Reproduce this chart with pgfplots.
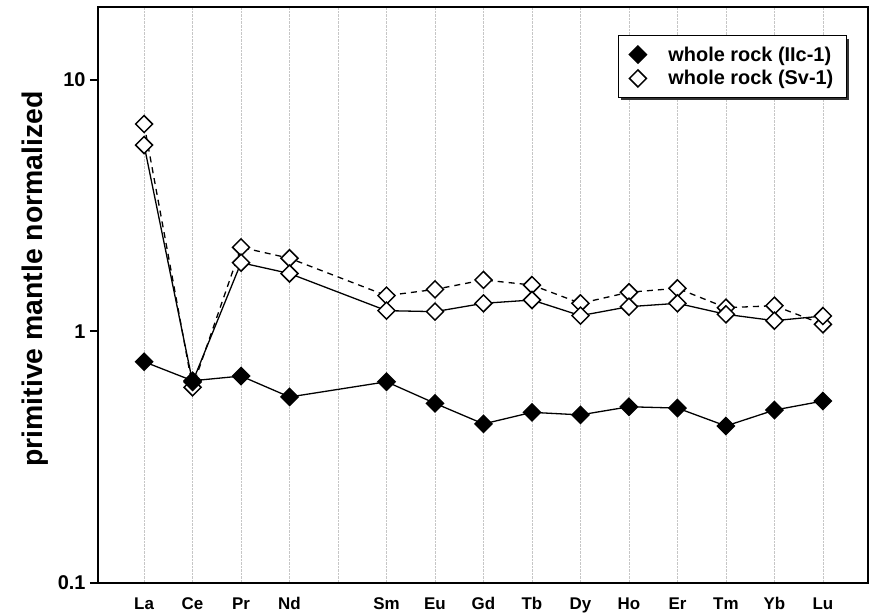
\documentclass[border=0pt]{standalone}
\usepackage{fontspec}
\setmainfont{Liberation Sans}
\usepackage{pgfplots}
\pgfplotsset{compat=1.18}
\usetikzlibrary{shadows}

% primitive-mantle normalized REE patterns (Pm omitted, x = 4)
\pgfplotstableread{
x   y
0   0.758
1   0.637
2   0.665
3   0.549
5   0.631
6   0.518
7   0.429
8   0.477
9   0.466
10  0.502
11  0.496
12  0.421
13  0.487
14  0.529
}\iicone
\pgfplotstableread{
x   y
0   5.51
1   0.63
2   1.877
3   1.70
5   1.21
6   1.199
7   1.294
8   1.334
9   1.156
10  1.255
11  1.294
12  1.17
13  1.104
14  1.152
}\svonea
\pgfplotstableread{
x   y
0   6.68
1   0.60
2   2.16
3   1.955
5   1.388
6   1.47
7   1.603
8   1.53
9   1.294
10  1.432
11  1.485
12  1.243
13  1.266
14  1.068
}\svoneb

\begin{document}
\begin{tikzpicture}
\begin{axis}[
  scale only axis,
  width=770bp, height=576bp,
  xmin=-0.95, xmax=14.93,
  ymode=log, ymin=0.1, ymax=19.5,
  axis line style={line width=2.8bp},
  xtick={0,...,14},
  xticklabels={La,Ce,Pr,Nd,,Sm,Eu,Gd,Tb,Dy,Ho,Er,Tm,Yb,Lu},
  xtick style={draw=none},
  xmajorgrids,
  grid style={gray!45, densely dotted, line width=0.7bp},
  ytick={0.1,1,10},
  yticklabels={0.1,1,10},
  yminorticks=false,
  ytick pos=left,
  tick align=outside,
  major tick length=8bp,
  ytick style={line width=2bp, black},
  /pgf/number format/assume math mode=true,
  xticklabel style={font=\fontsize{17}{20}\selectfont\bfseries, yshift=-3bp},
  yticklabel style={font=\fontsize{20}{24}\selectfont\bfseries, xshift=-1bp},
  ylabel={primitive mantle normalized},
  ylabel style={font=\fontsize{28.5}{32}\selectfont\bfseries,
                at={(axis description cs:-0.082,0.528)}, anchor=center},
  legend cell align=left,
  legend style={at={(0.9727,0.9514)}, anchor=north east,
                font=\fontsize{20}{24}\selectfont\bfseries,
                draw=black, line width=1.2bp, fill=white,
                drop shadow={shadow xshift=3bp, shadow yshift=-3bp, fill=black!80, opacity=1},
                inner xsep=11bp, inner ysep=9bp, row sep=4bp, column sep=20bp},
]
\addlegendimage{only marks, mark=square*, mark size=6bp,
  mark options={rotate=45, fill=black, draw=black, line width=1.5bp}}
\addlegendentry{whole rock (IIc-1)}
\addlegendimage{only marks, mark=square*, mark size=6bp,
  mark options={rotate=45, fill=white, draw=black, line width=1.5bp}}
\addlegendentry{whole rock (Sv-1)}

\addplot[forget plot, black, line width=1.3bp, dash pattern=on 6bp off 5bp,
  mark=square*, mark size=6bp,
  mark options={solid, rotate=45, fill=white, draw=black, line width=1.5bp}]
  table[x=x, y=y] {\svoneb};
\addplot[forget plot, black, line width=1.3bp,
  mark=square*, mark size=6bp,
  mark options={rotate=45, fill=white, draw=black, line width=1.5bp}]
  table[x=x, y=y] {\svonea};
\addplot[forget plot, black, line width=1.3bp,
  mark=square*, mark size=6bp,
  mark options={rotate=45, fill=black, draw=black, line width=1.5bp}]
  table[x=x, y=y] {\iicone};

\coordinate (sw) at (rel axis cs:0,0);
\coordinate (ne) at (rel axis cs:1,1);
\end{axis}
\pgfresetboundingbox
\path[use as bounding box] ([shift={(-98bp,-32bp)}]sw) rectangle ([shift={(4bp,7bp)}]ne);
\end{tikzpicture}
\end{document}
